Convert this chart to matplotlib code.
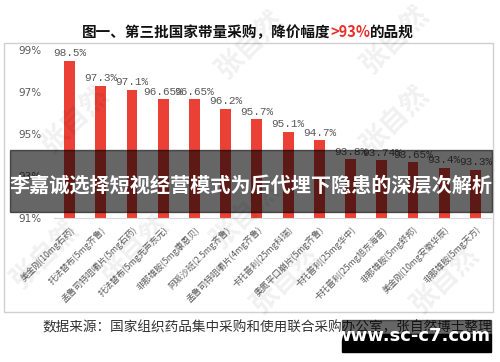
import matplotlib.pyplot as plt
from matplotlib.patches import Rectangle

plt.rcParams['font.family'] = ['Noto Sans CJK SC', 'DejaVu Sans']

# data
drugs = ['美金刚(10mg石药)', '托法替布(5mg齐鲁)', '孟鲁司特咀嚼片(5mg石药)',
         '托法替布(5mg先声东元)', '非那雄胺(5mg康恩贝)', '阿哌沙班(2.5mg齐鲁)',
         '孟鲁司特咀嚼片(4mg齐鲁)', '卡托普利(25mg科瑞)', '奥氮平口崩片(5mg齐鲁)',
         '卡托普利(25mg华中)', '卡托普利(25mg旭东海普)', '非那雄胺(5mg舒邦)',
         '美金刚(10mg安徽华辰)', '非那雄胺(5mg天方)']
cuts = [98.5, 97.3, 97.1, 96.65, 96.65, 96.2, 95.7, 95.1, 94.7,
        93.8, 93.74, 93.65, 93.4, 93.3]
cut_labels = ['98.5%', '97.3%', '97.1%', '96.65%', '96.65%', '96.2%', '95.7%',
              '95.1%', '94.7%', '93.8%', '93.74%', '93.65%', '93.4%', '93.3%']
yticks = [91, 93, 95, 97, 99]

W, H = 500, 362
fig = plt.figure(figsize=(W / 100, H / 100), dpi=100)


def fx(x):
    return x / W


def fy(y):
    return 1 - y / H


grey = '#595959'

# chart frame
fig.patches.append(Rectangle((fx(4), fy(312)), fx(489), (312 - 43) / H,
                             transform=fig.transFigure, fill=False,
                             edgecolor='#d0d0d0', linewidth=1))

ax = fig.add_axes([fx(54), fy(218), fx(437), (218 - 50) / H])
x = range(len(cuts))
ax.bar(x, [c - 91 for c in cuts], bottom=91, width=0.35, color='#EA4036')
for i, (c, lab) in enumerate(zip(cuts, cut_labels)):
    ax.text(i, c + 0.12, lab, ha='center', va='bottom', fontsize=8,
            color=grey, family=['Liberation Mono', 'DejaVu Sans Mono'])
ax.set_ylim(91, 99)
ax.set_xlim(-0.5, len(cuts) - 0.5)
ax.set_yticks(yticks)
ax.set_yticklabels([f'{t}%' for t in yticks], fontsize=7.5, color=grey,
                   family='DejaVu Sans')
ax.set_xticks(list(x))
ax.set_xticklabels(drugs, rotation=45, ha='right', rotation_mode='anchor',
                   fontsize=6.3, color=grey)
ax.tick_params(axis='both', length=0)
ax.tick_params(axis='y', pad=9)
ax.tick_params(axis='x', pad=5)
for s in ['top', 'right', 'left']:
    ax.spines[s].set_visible(False)
ax.spines['bottom'].set_color('#d9d9d9')

# watermarks
for wx, wy in [(75, 120), (250, 45), (395, 40), (245, 215), (45, 255),
               (135, 250), (285, 280), (445, 280), (395, 120)]:
    fig.text(fx(wx), fy(wy), '张自然', rotation=45, fontsize=20,
             color='#000000', alpha=0.06, ha='center', va='center',
             fontweight='bold')

# title with red part
fig.canvas.draw()
r = fig.canvas.get_renderer()
parts = [('图一、第三批国家带量采购，降价幅度', '#111111'), ('>93%', '#E8302A'),
         ('的品规', '#111111')]
texts = []
for s, col in parts:
    t = fig.text(0, fy(32), s, fontsize=10.5, fontweight='bold', color=col,
                 va='center', ha='left')
    texts.append(t)
widths = [t.get_window_extent(r).width for t in texts]
start = 248 - sum(widths) / 2
for t, w in zip(texts, widths):
    t.set_x(fx(start))
    start += w

# dark overlay band
fig.patches.append(Rectangle((fx(10), fy(212)), fx(482), (212 - 150) / H,
                             transform=fig.transFigure, color='black',
                             alpha=0.6, zorder=10))
fig.text(fx(251), fy(185), '李嘉诚选择短视经营模式为后代埋下隐患的深层次解析',
         fontsize=14.5, fontweight='bold', color='white', ha='center',
         va='center', zorder=11)

# footer
fig.text(fx(267), fy(327), '数据来源：国家组织药品集中采购和使用联合采购办公室，张自然博士整理',
         fontsize=9.8, color='#333333', ha='center', va='center')
fig.patches.append(Rectangle((fx(342), fy(334)), fx(149), 14 / H,
                             transform=fig.transFigure, color='black',
                             alpha=0.6, zorder=10))
fig.patches.append(Rectangle((fx(342), fy(352)), fx(149), 18 / H,
                             transform=fig.transFigure, color='black',
                             zorder=10))
fig.text(fx(412), fy(336), 'www.sc-c7.com', fontsize=13, fontweight='bold',
         color='white', ha='center', va='center', zorder=11,
         family='DejaVu Sans')

fig.savefig('out.png', dpi=100)
